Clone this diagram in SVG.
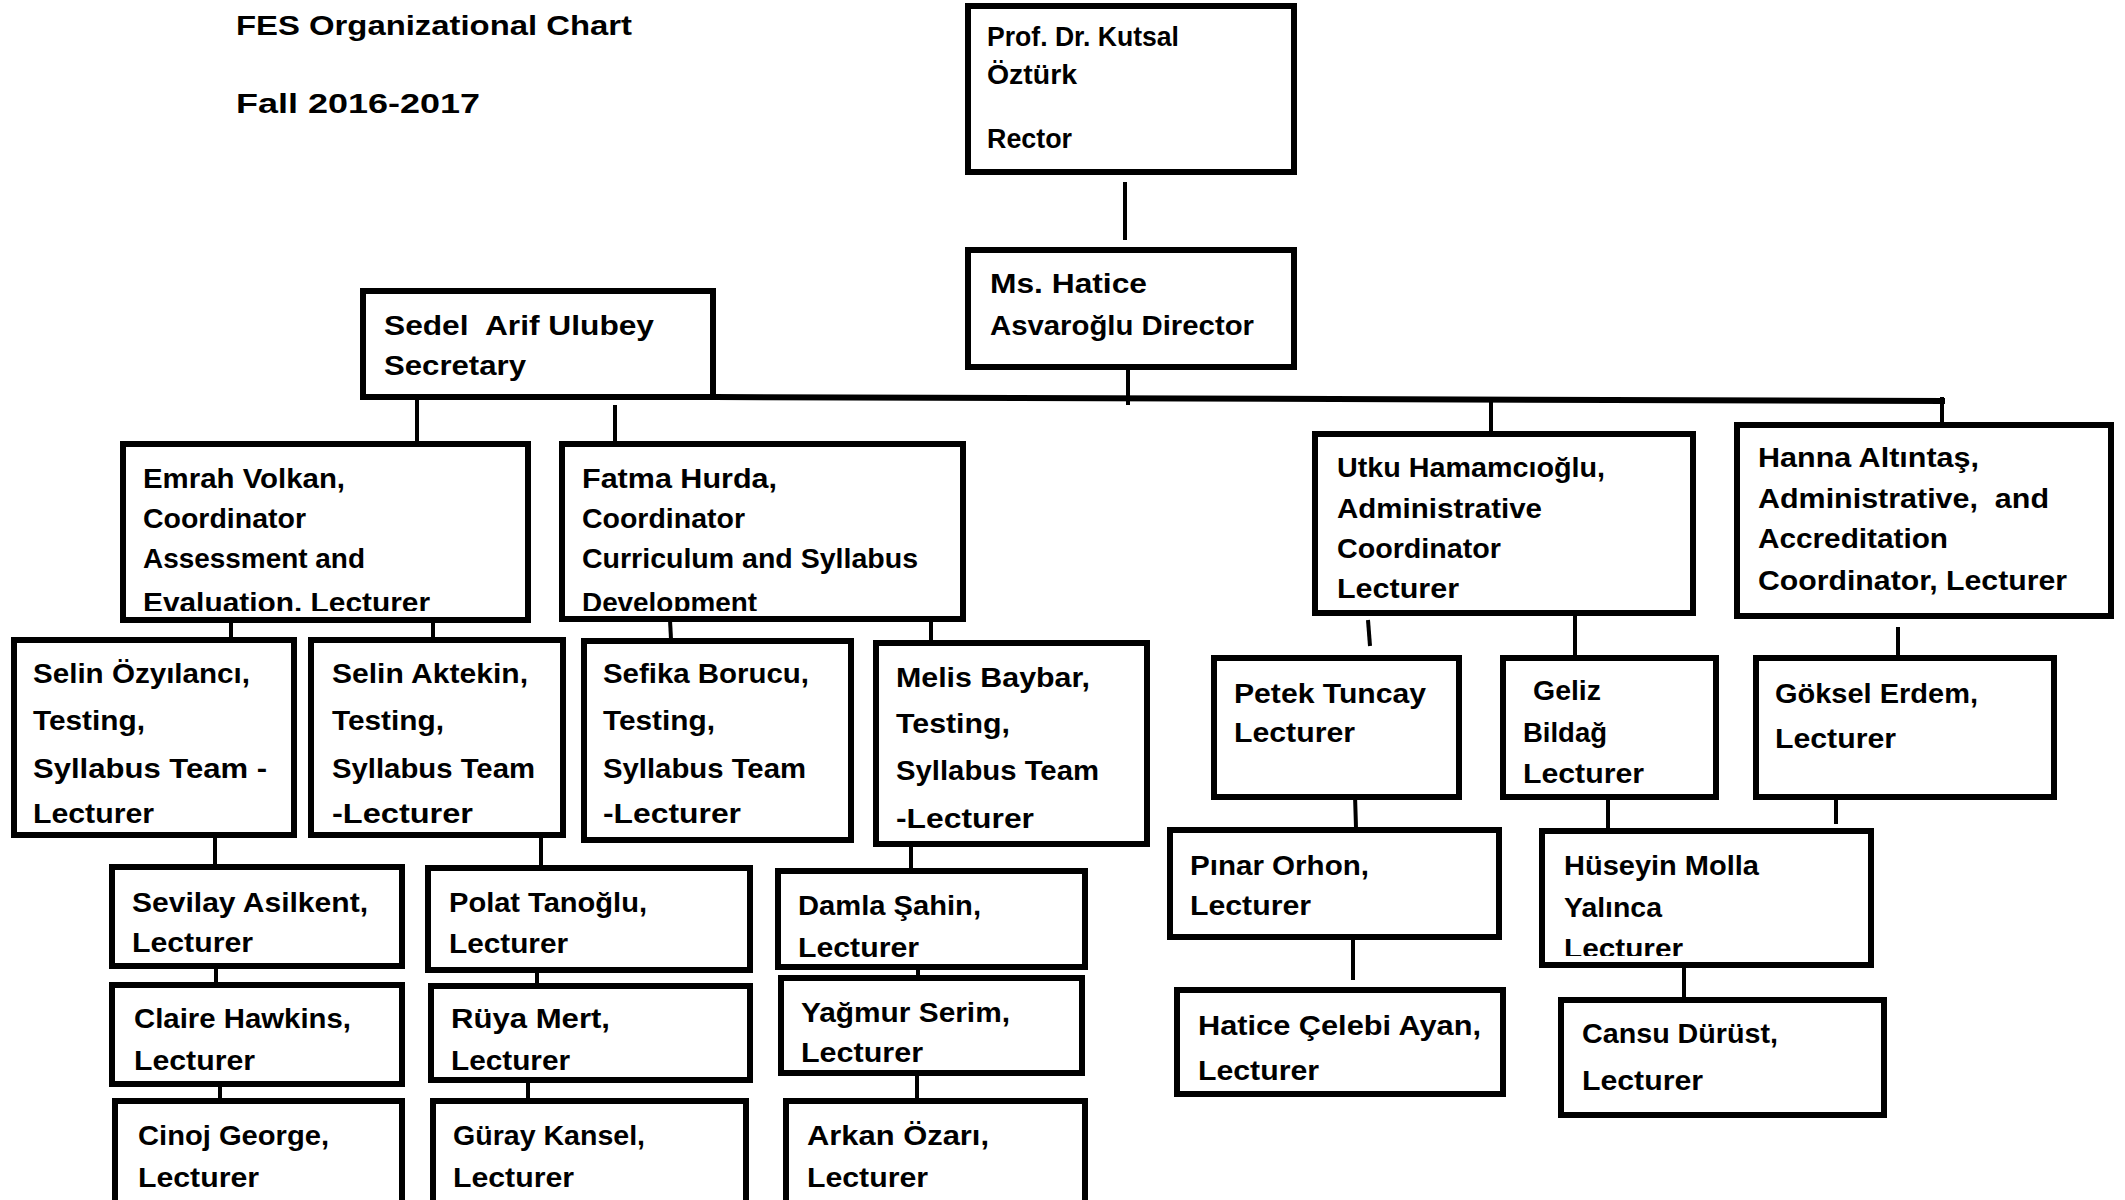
<svg xmlns="http://www.w3.org/2000/svg" width="2125" height="1200" viewBox="0 0 2125 1200">
<style>
text{font-family:"Liberation Sans",Arial,sans-serif;font-weight:bold;font-size:27px;fill:#000}
.box{fill:#fff;stroke:#000;stroke-width:6}
.c{stroke:#000;stroke-width:4;fill:none}
.bus{stroke:#000;stroke-width:6;fill:none}
</style>
<defs>
<clipPath id="ce"><rect x="126" y="447" width="399" height="164"/></clipPath>
<clipPath id="cf"><rect x="565" y="447" width="395" height="164"/></clipPath>
<clipPath id="ch"><rect x="1545" y="834" width="323" height="122"/></clipPath>
</defs>
<rect width="2125" height="1200" fill="#fff"/>
<g id="title">
<text x="236" y="35" textLength="396" lengthAdjust="spacingAndGlyphs">FES Organizational Chart</text>
<text x="236" y="113" textLength="244" lengthAdjust="spacingAndGlyphs">Fall 2016-2017</text>
</g>
<g id="connectors">
<line class="c" x1="1125" y1="182" x2="1125" y2="240"/>
<line class="c" x1="1128" y1="362" x2="1128" y2="405"/>
<line class="bus" x1="715" y1="397" x2="1945" y2="401"/>
<line class="c" x1="417" y1="400" x2="417" y2="442"/>
<line class="c" x1="615" y1="405" x2="615" y2="442"/>
<line class="c" x1="1491" y1="401" x2="1491" y2="433"/>
<line class="c" x1="1942" y1="397" x2="1942" y2="424"/>
<line class="c" x1="231" y1="622" x2="231" y2="638"/>
<line class="c" x1="433" y1="622" x2="433" y2="638"/>
<line class="c" x1="670" y1="620" x2="671" y2="639"/>
<line class="c" x1="931" y1="620" x2="931" y2="641"/>
<line class="c" x1="215" y1="837" x2="215" y2="865"/>
<line class="c" x1="541" y1="837" x2="541" y2="866"/>
<line class="c" x1="911" y1="846" x2="911" y2="869"/>
<line class="c" x1="216" y1="962" x2="216" y2="983"/>
<line class="c" x1="537" y1="968" x2="537" y2="988"/>
<line class="c" x1="918" y1="970" x2="918" y2="988"/>
<line class="c" x1="220" y1="1086" x2="220" y2="1099"/>
<line class="c" x1="528" y1="1077" x2="528" y2="1099"/>
<line class="c" x1="917" y1="1075" x2="917" y2="1099"/>
<line class="c" x1="1368" y1="620" x2="1370" y2="646"/>
<line class="c" x1="1575" y1="615" x2="1575" y2="656"/>
<line class="c" x1="1898" y1="627" x2="1898" y2="656"/>
<line class="c" x1="1355" y1="795" x2="1356" y2="828"/>
<line class="c" x1="1608" y1="792" x2="1608" y2="829"/>
<line class="c" x1="1836" y1="799" x2="1836" y2="824"/>
<line class="c" x1="1353" y1="939" x2="1353" y2="980"/>
<line class="c" x1="1684" y1="966" x2="1684" y2="1003"/>
</g>
<g id="rector">
<rect class="box" x="968" y="6" width="326" height="166"/>
<text x="987" y="46" textLength="192" lengthAdjust="spacingAndGlyphs">Prof. Dr. Kutsal</text>
<text x="987" y="84" textLength="90" lengthAdjust="spacingAndGlyphs">Öztürk</text>
<text x="987" y="148" textLength="85" lengthAdjust="spacingAndGlyphs">Rector</text>
</g>
<g id="director">
<rect class="box" x="968" y="250" width="326" height="117"/>
<text x="990" y="293" textLength="157" lengthAdjust="spacingAndGlyphs">Ms. Hatice</text>
<text x="990" y="335" textLength="264" lengthAdjust="spacingAndGlyphs">Asvaroğlu Director</text>
</g>
<g id="secretary">
<rect class="box" x="363" y="291" width="350" height="106"/>
<text x="384" y="335" textLength="270" lengthAdjust="spacingAndGlyphs">Sedel&#160; Arif Ulubey</text>
<text x="384" y="375" textLength="142" lengthAdjust="spacingAndGlyphs">Secretary</text>
</g>
<g id="emrah">
<rect class="box" x="123" y="444" width="405" height="176"/>
<g clip-path="url(#ce)">
<text x="143" y="488" textLength="202" lengthAdjust="spacingAndGlyphs">Emrah Volkan,</text>
<text x="143" y="528" textLength="163" lengthAdjust="spacingAndGlyphs">Coordinator</text>
<text x="143" y="568" textLength="222" lengthAdjust="spacingAndGlyphs">Assessment and</text>
<text x="143" y="612" textLength="287" lengthAdjust="spacingAndGlyphs">Evaluation. Lecturer</text>
</g>
</g>
<g id="fatma">
<rect class="box" x="562" y="444" width="401" height="175"/>
<g clip-path="url(#cf)">
<text x="582" y="488" textLength="195" lengthAdjust="spacingAndGlyphs">Fatma Hurda,</text>
<text x="582" y="528" textLength="163" lengthAdjust="spacingAndGlyphs">Coordinator</text>
<text x="582" y="568" textLength="336" lengthAdjust="spacingAndGlyphs">Curriculum and Syllabus</text>
<text x="582" y="612" textLength="175" lengthAdjust="spacingAndGlyphs">Development</text>
</g>
</g>
<g id="selin-ozyilanci">
<rect class="box" x="14" y="640" width="280" height="195"/>
<text x="33" y="683" textLength="217" lengthAdjust="spacingAndGlyphs">Selin Özyılancı,</text>
<text x="33" y="730" textLength="112" lengthAdjust="spacingAndGlyphs">Testing,</text>
<text x="33" y="778" textLength="234" lengthAdjust="spacingAndGlyphs">Syllabus Team -</text>
<text x="33" y="823" textLength="121" lengthAdjust="spacingAndGlyphs">Lecturer</text>
</g>
<g id="selin-aktekin">
<rect class="box" x="311" y="640" width="252" height="195"/>
<text x="332" y="683" textLength="196" lengthAdjust="spacingAndGlyphs">Selin Aktekin,</text>
<text x="332" y="730" textLength="112" lengthAdjust="spacingAndGlyphs">Testing,</text>
<text x="332" y="778" textLength="203" lengthAdjust="spacingAndGlyphs">Syllabus Team</text>
<text x="332" y="823" textLength="141" lengthAdjust="spacingAndGlyphs">-Lecturer</text>
</g>
<g id="sefika">
<rect class="box" x="584" y="641" width="267" height="199"/>
<text x="603" y="683" textLength="206" lengthAdjust="spacingAndGlyphs">Sefika Borucu,</text>
<text x="603" y="730" textLength="112" lengthAdjust="spacingAndGlyphs">Testing,</text>
<text x="603" y="778" textLength="203" lengthAdjust="spacingAndGlyphs">Syllabus Team</text>
<text x="603" y="823" textLength="138" lengthAdjust="spacingAndGlyphs">-Lecturer</text>
</g>
<g id="melis">
<rect class="box" x="876" y="643" width="271" height="201"/>
<text x="896" y="687" textLength="194" lengthAdjust="spacingAndGlyphs">Melis Baybar,</text>
<text x="896" y="733" textLength="114" lengthAdjust="spacingAndGlyphs">Testing,</text>
<text x="896" y="780" textLength="203" lengthAdjust="spacingAndGlyphs">Syllabus Team</text>
<text x="896" y="828" textLength="138" lengthAdjust="spacingAndGlyphs">-Lecturer</text>
</g>
<g id="sevilay">
<rect class="box" x="112" y="867" width="290" height="99"/>
<text x="132" y="912" textLength="236" lengthAdjust="spacingAndGlyphs">Sevilay Asilkent,</text>
<text x="132" y="952" textLength="121" lengthAdjust="spacingAndGlyphs">Lecturer</text>
</g>
<g id="polat">
<rect class="box" x="428" y="868" width="322" height="102"/>
<text x="449" y="912" textLength="198" lengthAdjust="spacingAndGlyphs">Polat Tanoğlu,</text>
<text x="449" y="953" textLength="119" lengthAdjust="spacingAndGlyphs">Lecturer</text>
</g>
<g id="damla">
<rect class="box" x="778" y="871" width="307" height="96"/>
<text x="798" y="915" textLength="183" lengthAdjust="spacingAndGlyphs">Damla Şahin,</text>
<text x="798" y="957" textLength="121" lengthAdjust="spacingAndGlyphs">Lecturer</text>
</g>
<g id="claire">
<rect class="box" x="112" y="985" width="290" height="99"/>
<text x="134" y="1028" textLength="217" lengthAdjust="spacingAndGlyphs">Claire Hawkins,</text>
<text x="134" y="1070" textLength="121" lengthAdjust="spacingAndGlyphs">Lecturer</text>
</g>
<g id="ruya">
<rect class="box" x="431" y="986" width="319" height="94"/>
<text x="451" y="1028" textLength="159" lengthAdjust="spacingAndGlyphs">Rüya Mert,</text>
<text x="451" y="1070" textLength="119" lengthAdjust="spacingAndGlyphs">Lecturer</text>
</g>
<g id="yagmur">
<rect class="box" x="781" y="978" width="301" height="95"/>
<text x="801" y="1022" textLength="209" lengthAdjust="spacingAndGlyphs">Yağmur Serim,</text>
<text x="801" y="1062" textLength="122" lengthAdjust="spacingAndGlyphs">Lecturer</text>
</g>
<g id="cinoj">
<rect class="box" x="115" y="1101" width="287" height="112"/>
<text x="138" y="1145" textLength="191" lengthAdjust="spacingAndGlyphs">Cinoj George,</text>
<text x="138" y="1187" textLength="121" lengthAdjust="spacingAndGlyphs">Lecturer</text>
</g>
<g id="guray">
<rect class="box" x="433" y="1101" width="313" height="112"/>
<text x="453" y="1145" textLength="192" lengthAdjust="spacingAndGlyphs">Güray Kansel,</text>
<text x="453" y="1187" textLength="121" lengthAdjust="spacingAndGlyphs">Lecturer</text>
</g>
<g id="arkan">
<rect class="box" x="786" y="1101" width="299" height="112"/>
<text x="807" y="1145" textLength="182" lengthAdjust="spacingAndGlyphs">Arkan Özarı,</text>
<text x="807" y="1187" textLength="121" lengthAdjust="spacingAndGlyphs">Lecturer</text>
</g>
<g id="utku">
<rect class="box" x="1315" y="434" width="378" height="179"/>
<text x="1337" y="477" textLength="268" lengthAdjust="spacingAndGlyphs">Utku Hamamcıoğlu,</text>
<text x="1337" y="518" textLength="205" lengthAdjust="spacingAndGlyphs">Administrative</text>
<text x="1337" y="558" textLength="164" lengthAdjust="spacingAndGlyphs">Coordinator</text>
<text x="1337" y="598" textLength="122" lengthAdjust="spacingAndGlyphs">Lecturer</text>
</g>
<g id="hanna">
<rect class="box" x="1737" y="425" width="374" height="191"/>
<text x="1758" y="467" textLength="221" lengthAdjust="spacingAndGlyphs">Hanna Altıntaş,</text>
<text x="1758" y="508" textLength="291" lengthAdjust="spacingAndGlyphs">Administrative,&#160; and</text>
<text x="1758" y="548" textLength="190" lengthAdjust="spacingAndGlyphs">Accreditation</text>
<text x="1758" y="590" textLength="309" lengthAdjust="spacingAndGlyphs">Coordinator, Lecturer</text>
</g>
<g id="petek">
<rect class="box" x="1214" y="658" width="245" height="139"/>
<text x="1234" y="703" textLength="192" lengthAdjust="spacingAndGlyphs">Petek Tuncay</text>
<text x="1234" y="742" textLength="121" lengthAdjust="spacingAndGlyphs">Lecturer</text>
</g>
<g id="geliz">
<rect class="box" x="1503" y="658" width="213" height="139"/>
<text x="1533" y="700" textLength="68" lengthAdjust="spacingAndGlyphs">Geliz</text>
<text x="1523" y="742" textLength="84" lengthAdjust="spacingAndGlyphs">Bildağ</text>
<text x="1523" y="783" textLength="121" lengthAdjust="spacingAndGlyphs">Lecturer</text>
</g>
<g id="goksel">
<rect class="box" x="1756" y="658" width="298" height="139"/>
<text x="1775" y="703" textLength="203" lengthAdjust="spacingAndGlyphs">Göksel Erdem,</text>
<text x="1775" y="748" textLength="121" lengthAdjust="spacingAndGlyphs">Lecturer</text>
</g>
<g id="pinar">
<rect class="box" x="1170" y="830" width="329" height="107"/>
<text x="1190" y="875" textLength="179" lengthAdjust="spacingAndGlyphs">Pınar Orhon,</text>
<text x="1190" y="915" textLength="121" lengthAdjust="spacingAndGlyphs">Lecturer</text>
</g>
<g id="huseyin">
<rect class="box" x="1542" y="831" width="329" height="134"/>
<g clip-path="url(#ch)">
<text x="1564" y="875" textLength="195" lengthAdjust="spacingAndGlyphs">Hüseyin Molla</text>
<text x="1564" y="917" textLength="98" lengthAdjust="spacingAndGlyphs">Yalınca</text>
<text x="1564" y="958" textLength="119" lengthAdjust="spacingAndGlyphs">Lecturer</text>
</g>
</g>
<g id="hatice">
<rect class="box" x="1177" y="990" width="326" height="104"/>
<text x="1198" y="1035" textLength="283" lengthAdjust="spacingAndGlyphs">Hatice Çelebi Ayan,</text>
<text x="1198" y="1080" textLength="121" lengthAdjust="spacingAndGlyphs">Lecturer</text>
</g>
<g id="cansu">
<rect class="box" x="1561" y="1000" width="323" height="115"/>
<text x="1582" y="1043" textLength="196" lengthAdjust="spacingAndGlyphs">Cansu Dürüst,</text>
<text x="1582" y="1090" textLength="121" lengthAdjust="spacingAndGlyphs">Lecturer</text>
</g>
</svg>
